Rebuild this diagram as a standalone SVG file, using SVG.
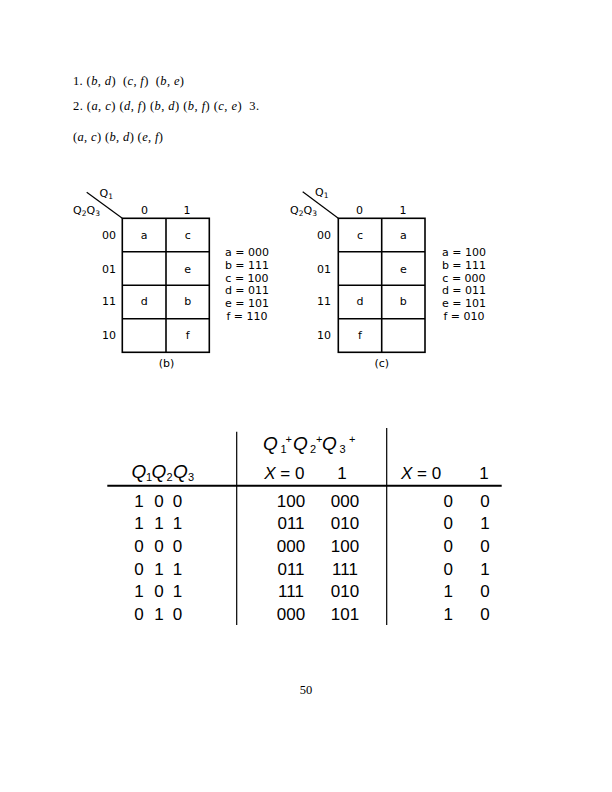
<svg xmlns="http://www.w3.org/2000/svg" width="612" height="792" viewBox="0 0 612 792">
<style>
.tm{font-family:"Liberation Serif",serif;font-size:12.5px;fill:#000}
.i{font-style:italic}
.k{font-family:"DejaVu Sans","Liberation Sans",sans-serif;font-size:11px;fill:#000}
.km{text-anchor:middle}
.ke{text-anchor:end}
.sub{font-size:7.5px}
.g{fill:none;stroke:#000;stroke-width:1.6}
.tb{font-family:"Liberation Sans",Arial,sans-serif;font-size:17px;fill:#000}
.tl{stroke:#000;stroke-width:1.2}
.q{font-size:19px;font-style:italic}
.s{font-size:11px;font-style:normal}
</style>
<rect width="612" height="792" fill="#fff"/>
<g id="notes">
<text class="tm" x="73" y="85" textLength="111" lengthAdjust="spacing" xml:space="preserve">1. (<tspan class="i">b</tspan>, <tspan class="i">d</tspan>)  (<tspan class="i">c</tspan>, <tspan class="i">f</tspan>)  (<tspan class="i">b</tspan>, <tspan class="i">e</tspan>)</text>
<text class="tm" x="73" y="110" textLength="186" lengthAdjust="spacing" xml:space="preserve">2. (<tspan class="i">a</tspan>, <tspan class="i">c</tspan>) (<tspan class="i">d</tspan>, <tspan class="i">f</tspan>) (<tspan class="i">b</tspan>, <tspan class="i">d</tspan>) (<tspan class="i">b</tspan>, <tspan class="i">f</tspan>) (<tspan class="i">c</tspan>, <tspan class="i">e</tspan>)  3.</text>
<text class="tm" x="73" y="141" textLength="90" lengthAdjust="spacing">(<tspan class="i">a</tspan>, <tspan class="i">c</tspan>) (<tspan class="i">b</tspan>, <tspan class="i">d</tspan>) (<tspan class="i">e</tspan>, <tspan class="i">f</tspan>)</text>
</g>
<g id="map-b">
<line x1="86.7" y1="192.3" x2="122.3" y2="218.3" stroke="#000" stroke-width="1.2"/>
<text class="k" x="99.5" y="196.5">Q<tspan class="sub" dy="2">1</tspan></text>
<text class="k" x="73" y="214">Q<tspan class="sub" dy="2">2</tspan><tspan dy="-2">Q</tspan><tspan class="sub" dy="2">3</tspan></text>
<text class="k km" x="144.5" y="214">0</text>
<text class="k km" x="187" y="214">1</text>
<rect class="g" x="122.3" y="218.3" width="87" height="134"/>
<line class="g" x1="166" y1="218.3" x2="166" y2="352.3"/>
<line class="g" x1="122.3" y1="251.8" x2="209.3" y2="251.8"/>
<line class="g" x1="122.3" y1="285.3" x2="209.3" y2="285.3"/>
<line class="g" x1="122.3" y1="318.8" x2="209.3" y2="318.8"/>
<text class="k ke" x="116" y="239">00</text>
<text class="k ke" x="116" y="272.5">01</text>
<text class="k ke" x="116" y="305">11</text>
<text class="k ke" x="116" y="339">10</text>
<text class="k km" x="144.2" y="239">a</text>
<text class="k km" x="187.7" y="239">c</text>
<text class="k km" x="187.7" y="272.5">e</text>
<text class="k km" x="144.2" y="305">d</text>
<text class="k km" x="187.7" y="305">b</text>
<text class="k km" x="187.7" y="339">f</text>
<text class="k km" x="247" y="256">a = 000</text>
<text class="k km" x="247" y="268.8">b = 111</text>
<text class="k km" x="247" y="281.6">c = 100</text>
<text class="k km" x="247" y="294.4">d = 011</text>
<text class="k km" x="247" y="307.2">e = 101</text>
<text class="k km" x="247" y="320">f = 110</text>
<text class="k km" x="166.5" y="367">(b)</text>
</g>
<g id="map-c">
<line x1="302.7" y1="191.7" x2="338.3" y2="218.3" stroke="#000" stroke-width="1.2"/>
<text class="k" x="315" y="196">Q<tspan class="sub" dy="2">1</tspan></text>
<text class="k" x="290" y="214">Q<tspan class="sub" dy="2">2</tspan><tspan dy="-2">Q</tspan><tspan class="sub" dy="2">3</tspan></text>
<text class="k km" x="359.5" y="214">0</text>
<text class="k km" x="403" y="214">1</text>
<rect class="g" x="338.3" y="218.3" width="86.7" height="134"/>
<line class="g" x1="381.7" y1="218.3" x2="381.7" y2="352.3"/>
<line class="g" x1="338.3" y1="251.8" x2="425" y2="251.8"/>
<line class="g" x1="338.3" y1="285.3" x2="425" y2="285.3"/>
<line class="g" x1="338.3" y1="318.8" x2="425" y2="318.8"/>
<text class="k ke" x="331" y="239">00</text>
<text class="k ke" x="331" y="272.5">01</text>
<text class="k ke" x="331" y="305">11</text>
<text class="k ke" x="331" y="339">10</text>
<text class="k km" x="360" y="239">c</text>
<text class="k km" x="403.3" y="239">a</text>
<text class="k km" x="403.3" y="272.5">e</text>
<text class="k km" x="360" y="305">d</text>
<text class="k km" x="403.3" y="305">b</text>
<text class="k km" x="360" y="339">f</text>
<text class="k km" x="464" y="256">a = 100</text>
<text class="k km" x="464" y="268.8">b = 111</text>
<text class="k km" x="464" y="281.6">c = 000</text>
<text class="k km" x="464" y="294.4">d = 011</text>
<text class="k km" x="464" y="307.2">e = 101</text>
<text class="k km" x="464" y="320">f = 010</text>
<text class="k km" x="381.7" y="367">(c)</text>
</g>
<g id="table">
<line class="tl" x1="236.7" y1="431.7" x2="236.7" y2="625"/>
<line class="tl" x1="386.7" y1="428" x2="386.7" y2="625"/>
<line x1="107.3" y1="485.7" x2="501.7" y2="485.7" stroke="#000" stroke-width="2"/>
<text class="tb" y="450"><tspan class="q" x="263">Q</tspan><tspan class="s" x="280.5" dy="3">1</tspan><tspan class="s" x="285.5" dy="-10">+</tspan><tspan class="q" x="293" dy="7">Q</tspan><tspan class="s" x="310" dy="3">2</tspan><tspan class="s" x="316" dy="-10">+</tspan><tspan class="q" x="322" dy="7">Q</tspan><tspan class="s" x="339.5" dy="3">3</tspan><tspan class="s" x="349" dy="-10">+</tspan></text>
<text class="tb" y="478.3"><tspan class="q" x="131.5">Q</tspan><tspan class="s" x="146" dy="3">1</tspan><tspan class="q" x="151.5" dy="-3">Q</tspan><tspan class="s" x="166.5" dy="3">2</tspan><tspan class="q" x="173" dy="-3">Q</tspan><tspan class="s" x="188" dy="3">3</tspan></text>
<text class="tb" x="264.3" y="479" xml:space="preserve"><tspan class="i">X</tspan> = 0</text>
<text class="tb km" x="342" y="479">1</text>
<text class="tb" x="401" y="479" xml:space="preserve"><tspan class="i">X</tspan> = 0</text>
<text class="tb km" x="484" y="479">1</text>
<g class="tb km">
<text y="506.5"><tspan x="139">1</tspan><tspan x="159">0</tspan><tspan x="177.5">0</tspan></text>
<text y="529"><tspan x="139">1</tspan><tspan x="159">1</tspan><tspan x="177.5">1</tspan></text>
<text y="552"><tspan x="139">0</tspan><tspan x="159">0</tspan><tspan x="177.5">0</tspan></text>
<text y="574.5"><tspan x="139">0</tspan><tspan x="159">1</tspan><tspan x="177.5">1</tspan></text>
<text y="597"><tspan x="139">1</tspan><tspan x="159">0</tspan><tspan x="177.5">1</tspan></text>
<text y="620"><tspan x="139">0</tspan><tspan x="159">1</tspan><tspan x="177.5">0</tspan></text>
<text x="291" y="506.5">100</text>
<text x="291" y="529">011</text>
<text x="291" y="552">000</text>
<text x="291" y="574.5">011</text>
<text x="291" y="597">111</text>
<text x="291" y="620">000</text>
<text x="345" y="506.5">000</text>
<text x="345" y="529">010</text>
<text x="345" y="552">100</text>
<text x="345" y="574.5">111</text>
<text x="345" y="597">010</text>
<text x="345" y="620">101</text>
<text x="448.3" y="506.5">0</text>
<text x="448.3" y="529">0</text>
<text x="448.3" y="552">0</text>
<text x="448.3" y="574.5">0</text>
<text x="448.3" y="597">1</text>
<text x="448.3" y="620">1</text>
<text x="485" y="506.5">0</text>
<text x="485" y="529">1</text>
<text x="485" y="552">0</text>
<text x="485" y="574.5">1</text>
<text x="485" y="597">0</text>
<text x="485" y="620">0</text>
</g>
</g>
<text class="tm" x="306" y="694" text-anchor="middle" font-size="12">50</text>
</svg>
